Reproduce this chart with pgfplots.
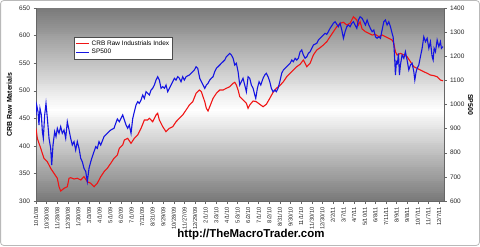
\documentclass[border=0pt]{standalone}
\usepackage{pgfplots}
\pgfplotsset{compat=1.18}
\usepackage{fontspec}
\setmainfont{Liberation Sans}
\definecolor{crbred}{RGB}{240,20,20}
\definecolor{spblue}{RGB}{20,20,225}
\pgfplotstableread{
day val
0 431.8
2.6 413.7
9.3 395.6
15.8 377.4
22.4 371.3
29.1 359.3
35.7 350.2
42.2 341.2
45.6 325.9
48.9 318.1
55.5 323
62 325.9
65.4 341.2
68.7 342.3
75.3 339.9
81.8 341.2
88.6 338.1
95.1 344.1
101.6 335
108.4 332.1
114.9 325.9
121.4 332.1
128.2 344.1
134.7 353.1
141.2 359.3
148 368.4
154.5 377.4
161.1 383.4
165 395.6
171.7 401.6
175 410.6
181.6 413.7
188.2 404.6
194.8 413.7
201.4 419.7
208 431.8
214.6 446.9
221.2 446.9
224.5 450
231.1 443.8
237.7 456
241 459
244.3 446.9
251 434.7
257.5 425.7
264.1 431.8
270.8 434.7
277.3 443.8
284 450
290.6 456
297.2 465
303.8 474.1
310.4 480
317 495.3
323.5 501.3
327.5 498.2
334.2 480
337.4 468.1
340.7 463.2
344.1 471
350.6 486.2
357.2 495.3
363.9 501.3
370.4 501.3
377 504.4
383.7 507.3
390.3 513.4
393.6 515.3
396.8 510.4
400.2 501.3
403.5 489.2
410 483.2
416.6 477.2
420 468.1
423.3 474.1
429.9 481.4
436.4 480
443.1 475.4
449.7 471
456.2 475.4
463 486.2
469.5 497.1
476 504.4
482.8 509.1
489.9 516.4
496.6 525.4
503.2 531.6
509.7 537.6
516.4 543.6
523 547.9
529.5 555.7
532.9 549.7
536.3 543.6
542.8 549.7
549.3 564.8
556 573.8
562.6 578
569.1 582.9
575.9 588.9
582.4 598
588.9 607
595.7 616.1
602.2 622.3
608.8 624.1
615.5 619.2
622 622.3
628.6 634.2
635.3 628.2
638.5 619.2
641.8 625.2
645.8 612
652.4 607
659.1 604.1
665.6 601
672.2 602.2
678.9 598
685.4 601
692 598
698.7 595
705.2 592
708.6 586
711.8 570.8
715.1 564.8
721.7 567.8
728.4 564.8
734.9 561.7
741.5 552.6
748.2 543.6
754.8 540.6
761.3 537.6
768 534.5
774.6 531.6
781.1 528.5
787.8 527.3
794.4 525.4
800.9 519.4
806 518
}\crbdata
\pgfplotstableread{
day val
0 956.5
1.3 997.9
4 970.3
5.9 915
7.9 984.1
10.6 956.5
12.6 887.4
14.5 859.8
17.2 956.5
19.8 1004.8
22.5 942.7
25.8 859.8
29.1 818.3
31.1 749.2
33.7 832.1
37 887.4
39.6 866.7
42.2 901.2
45.6 880.5
48.9 908.1
52.1 880.5
55.5 894.3
58.8 859.8
62 928.7
65.4 894.3
68.7 859.8
71.9 832.1
75.3 845.9
78.6 811.4
81.8 845.9
85.2 818.3
88.6 776.8
91.7 763
95.1 735.4
98.5 721.6
101.6 680.1
105 735.4
108.4 763
111.5 783.8
114.9 804.5
118.3 825.2
121.4 818.3
124.8 845.9
128.2 832.1
134.7 866.7
141.2 880.5
148 894.3
154.5 901.2
157.9 921.9
161.1 940
165 928.7
171.7 956.5
178.3 915
181.6 901.2
184.8 915
188.2 880.5
191.6 942.7
194.8 970.3
198.1 997.9
201.4 1011.6
204.6 1004.8
208 1018.6
211.4 1039.4
214.6 1025.7
217.9 1053
221.2 1046.4
224.5 1039.4
227.8 1060.1
231.1 1067.1
234.4 1080.8
237.7 1101.5
241 1115.2
244.3 1101.5
247.6 1067.1
251 1073.8
254.2 1067.1
257.5 1080.8
260.9 1053
264.1 1067.1
267.4 1080.8
270.8 1094.5
274 1108.6
277.3 1101.5
280.7 1115.2
284 1108.6
287.2 1094.5
290.6 1115.2
293.8 1101.5
297.2 1115.2
303.8 1122.3
307.1 1129.3
310.4 1136
313.6 1143
317 1156.7
320.3 1150
324.3 1108.6
327.5 1094.5
330.8 1080.8
334.2 1067.1
337.4 1080.8
340.7 1087.9
344.1 1101.5
347.3 1108.6
350.6 1115.2
354 1136
357.2 1150
360.5 1156.7
363.9 1163.7
367.1 1170.8
370.4 1177.4
373.8 1184.4
377 1198.1
380.4 1205.2
383.7 1212
386.9 1205.2
390.3 1191.5
393.6 1163.7
396.8 1170.8
400.2 1136
403.5 1080.8
406.7 1094.5
410 1108.6
413.4 1080.8
416.6 1053
420 1115.2
423.3 1108.6
426.5 1080.8
429.9 1067.1
433.3 1039.4
435.2 1025.7
438.4 1067.1
441.8 1094.5
445.1 1080.8
449.7 1108.6
453 1122.3
456.2 1129.3
459.6 1115.2
463 1094.5
466.1 1067.1
469.5 1053
472.9 1060.1
476 1053
479.4 1067.1
482.8 1094.5
486.7 1130
489.9 1143
493.3 1150
496.6 1156.7
499.8 1163.7
503.2 1170.8
506.5 1184.4
509.7 1177.4
513.1 1191.5
516.4 1184.4
519.6 1191.5
523 1218.8
526.3 1225.9
529.5 1205.2
532.9 1191.5
536.3 1198.1
539.4 1212
542.8 1218.8
546.2 1232.9
549.3 1246.6
556 1253.7
559.2 1267.3
562.6 1274.4
565.9 1281
569.1 1288
572.5 1295.1
575.9 1291
579 1301.8
582.4 1315.8
585.8 1326.6
588.9 1336.6
592.3 1343.2
595.7 1332.4
598.8 1322.5
602.2 1336.6
605.6 1308.8
608.8 1274.4
612.1 1301.8
615.5 1322.5
618.7 1329.5
622 1322.5
625.4 1336.6
628.6 1343.2
631.9 1329.5
635.3 1315.8
638.5 1350.2
641.8 1363.9
645.8 1357.3
649.2 1343.2
652.4 1329.5
655.7 1350.2
659.1 1329.5
662.2 1315.8
665.6 1301.8
669 1308.8
672.2 1281
675.5 1274.4
678.9 1281
682.1 1274.4
685.4 1308.8
688.8 1343.2
692 1350.2
695.3 1329.5
698.7 1343.2
701.9 1322.5
705.2 1295.1
707.2 1281
709.2 1232.9
710.6 1177.4
711.8 1122.3
713.8 1177.4
715.8 1170.8
717.8 1212
719.7 1122.3
721.7 1163.7
725 1205.2
728.4 1191.5
731.6 1218.8
734.9 1184.4
738.3 1143
741.5 1163.7
744.9 1170.8
748.2 1136
750.2 1101.5
752.8 1136
754.8 1150
758.1 1163.7
761.3 1198.1
764.7 1232.9
768 1281
771.2 1260.3
774.6 1274.4
778 1232.9
781.1 1260.3
784.5 1198.1
786.5 1184.4
788.4 1232.9
791.1 1218.8
794.4 1267.3
797.8 1239.6
800.9 1260.3
802.9 1232.9
806 1240
}\spdata
\begin{document}
\begin{tikzpicture}[x=1bp,y=1bp]
\useasboundingbox (0,0) rectangle (480,246);
\draw[gray!55, line width=0.8bp, rounded corners=3bp] (0.6,0.6) rectangle (479.4,245.4);
% plot-area background gradient (grey - white - grey)
\foreach \k in {0,...,95} {
  \pgfmathtruncatemacro\gshade{\k<45 ? round(52*(45-\k)/45) : round(52*(\k-45)/50)}
  \pgfmathsetmacro\ylo{45+\k*2.0104}
  \pgfmathsetmacro\yhi{45+(\k+1)*2.0104+0.3}
  \fill[black!\gshade] (36,\ylo) rectangle (444,\yhi);
}
\pgfplotsset{
  base/.style={
    at={(36bp,45bp)}, anchor=south west,
    width=408bp, height=193bp, scale only axis,
    xmin=0, xmax=808,
    tick label style={font=\fontsize{6.5}{7}\selectfont, text=black!85},
    /pgf/number format/assume math mode=true,
    /pgf/number format/1000 sep={},
    tick align=outside, major tick length=2.5bp,
    tick style={black!60, line width=0.4bp},
    axis line style={black!60, line width=0.5bp},
  }
}
\begin{axis}[base,
  ymin=300, ymax=650, ytick={300,350,...,650},
  axis y line*=left, axis x line*=bottom,
  xtick={0,21,...,798},
  xticklabels={10/1/08,10/30/08,11/28/08,12/30/08,1/30/09,3/3/09,4/1/09,5/1/09,6/2/09,7/1/09,7/31/09,8/31/09,9/29/09,10/28/09,11/27/09,12/29/09,2/1/10,3/3/10,4/1/10,5/3/10,6/2/10,7/1/10,8/2/10,8/31/10,9/30/10,11/1/10,11/30/10,12/30/10,2/2/11,3/7/11,4/7/11,5/10/11,6/8/11,7/11/11,8/9/11,9/8/11,10/7/11,11/7/11,12/7/11},
  xticklabel style={rotate=90, anchor=east, font=\fontsize{5.8}{6}\selectfont},
  ylabel={\textbf{CRB Raw Materials}},
  ylabel style={font=\fontsize{7}{8}\selectfont, at={(axis description cs:-0.065,0.5)}, anchor=center},
]
\addplot[crbred, line width=1.1bp] table[x=day, y=val] {\crbdata};
\end{axis}
\begin{axis}[base,
  ymin=600, ymax=1400, ytick={600,700,...,1400},
  axis y line*=right, axis x line=none,
  ylabel={\textbf{SP500}},
  ylabel style={font=\fontsize{7}{8}\selectfont, at={(axis description cs:1.065,0.5)}, anchor=center, rotate=180},
  legend style={at={(axis description cs:0.093,0.85)}, anchor=north west,
    font=\fontsize{6.5}{7}\selectfont, draw=black!70, fill=white,
    inner sep=1.5bp, row sep=-1.5bp, cells={anchor=west}},
  legend image code/.code={\draw[#1] (0bp,0bp) -- (13bp,0bp);},
]
\addlegendimage{crbred, line width=1.1bp}
\addlegendentry{CRB Raw Industrials Index}
\addplot[spblue, line width=1.1bp] table[x=day, y=val] {\spdata};
\addlegendentry{SP500}
\end{axis}
\node[font=\bfseries\fontsize{11.5}{12}\selectfont] at (251,11) {http://TheMacroTrader.com};
\end{tikzpicture}
\end{document}
